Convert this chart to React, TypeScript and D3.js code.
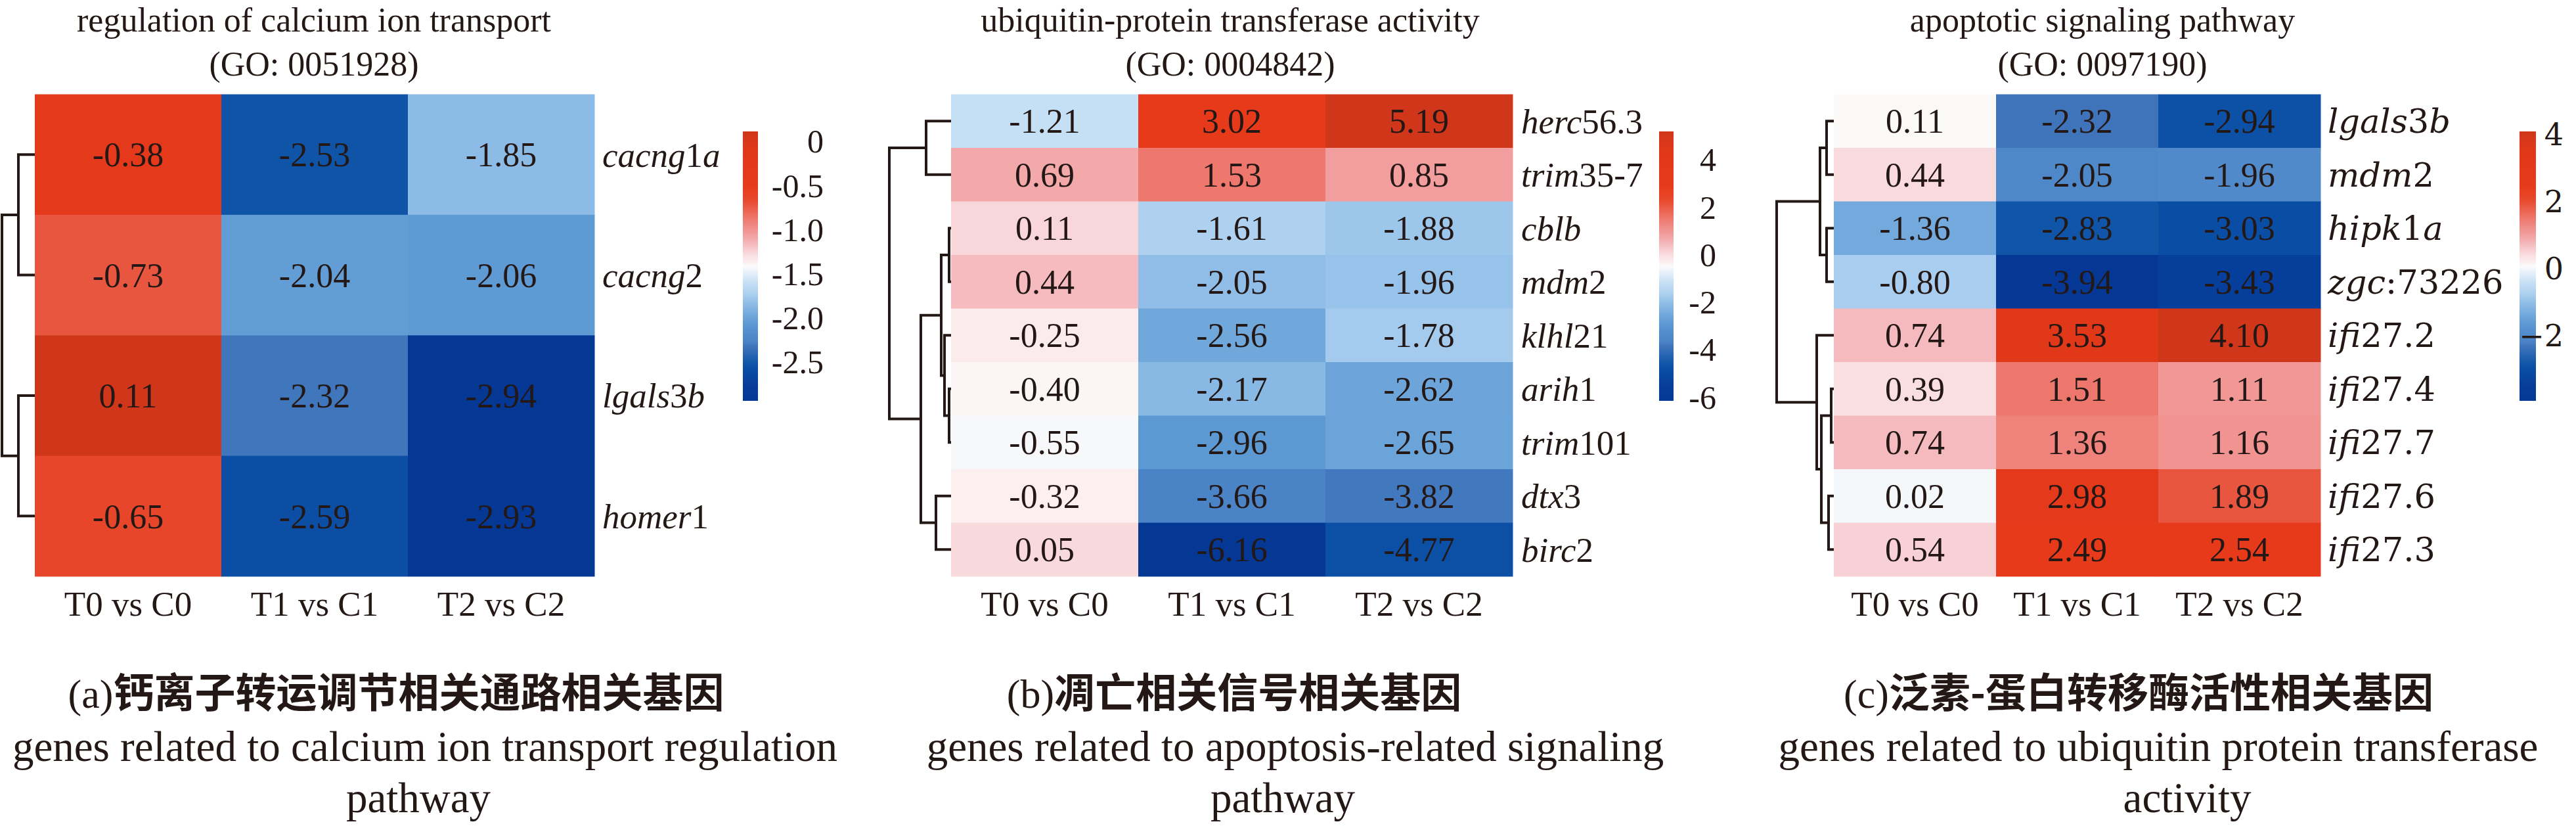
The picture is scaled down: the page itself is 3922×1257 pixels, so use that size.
import React from 'react';
import * as d3 from 'd3';

// ---------------- DATA ----------------
const COMPARISONS = ['T0 vs C0', 'T1 vs C1', 'T2 vs C2'];

const TITLES = [
  ['regulation of calcium ion transport', '(GO: 0051928)'],
  ['ubiquitin-protein transferase activity', '(GO: 0004842)'],
  ['apoptotic signaling pathway', '(GO: 0097190)'],
];

const GENES_A = ['cacng1a', 'cacng2', 'lgals3b', 'homer1'];
const VALUES_A = [
  [-0.38, -2.53, -1.85],
  [-0.73, -2.04, -2.06],
  [0.11, -2.32, -2.94],
  [-0.65, -2.59, -2.93],
];
const TICKS_A = [0, -0.5, -1.0, -1.5, -2.0, -2.5];
const TICK_LABELS_A = ['0', '-0.5', '-1.0', '-1.5', '-2.0', '-2.5'];
const TREE_A = { h: 50, c: [{ h: 25, c: ['cacng1a', 'cacng2'] }, { h: 25, c: ['lgals3b', 'homer1'] }] };

const GENES_B = ['herc56.3', 'trim35-7', 'cblb', 'mdm2', 'klhl21', 'arih1', 'trim101', 'dtx3', 'birc2'];
const VALUES_B = [
  [-1.21, 3.02, 5.19],
  [0.69, 1.53, 0.85],
  [0.11, -1.61, -1.88],
  [0.44, -2.05, -1.96],
  [-0.25, -2.56, -1.78],
  [-0.40, -2.17, -2.62],
  [-0.55, -2.96, -2.65],
  [-0.32, -3.66, -3.82],
  [0.05, -6.16, -4.77],
];
const TICKS_B = [4, 2, 0, -2, -4, -6];
const TICK_LABELS_B = ['4', '2', '0', '-2', '-4', '-6'];
const TREE_B = {
  h: 94,
  c: [
    { h: 38, c: ['herc56.3', 'trim35-7'] },
    {
      h: 46,
      c: [
        { h: 15, c: [{ h: 3, c: ['cblb', 'mdm2'] }, { h: 10, c: ['klhl21', { h: 3, c: ['arih1', 'trim101'] }] }] },
        { h: 23, c: ['dtx3', 'birc2'] },
      ],
    },
  ],
};

const GENES_C = ['lgals3b', 'mdm2', 'hipk1a', 'zgc:73226', 'ifi27.2', 'ifi27.4', 'ifi27.7', 'ifi27.6', 'ifi27.3'];
const VALUES_C = [
  [0.11, -2.32, -2.94],
  [0.44, -2.05, -1.96],
  [-1.36, -2.83, -3.03],
  [-0.80, -3.94, -3.43],
  [0.74, 3.53, 4.10],
  [0.39, 1.51, 1.11],
  [0.74, 1.36, 1.16],
  [0.02, 2.98, 1.89],
  [0.54, 2.49, 2.54],
];
const TICKS_C = [4, 2, 0, -2];
const TICK_LABELS_C = ['4', '2', '0', '\u22122'];
const TREE_C = {
  h: 87,
  c: [
    { h: 21, c: [{ h: 11, c: ['lgals3b', 'mdm2'] }, { h: 11, c: ['hipk1a', 'zgc:73226'] }] },
    { h: 26, c: ['ifi27.2', { h: 19, c: [{ h: 4, c: ['ifi27.4', 'ifi27.7'] }, { h: 8, c: ['ifi27.6', 'ifi27.3'] }] }] },
  ],
};

const CAPTIONS_CN = ['(a)钙离子转运调节相关通路相关基因', '(b)凋亡相关信号相关基因', '(c)泛素-蛋白转移酶活性相关基因'];
const CAPTIONS_EN = [
  ['genes related to calcium ion transport regulation', 'pathway'],
  ['genes related to apoptosis-related signaling', 'pathway'],
  ['genes related to ubiquitin protein transferase', 'activity'],
];

// ---------------- STYLE / LAYOUT ----------------
const INK = '#231815';
const SERIF = '"Liberation Serif", "Times New Roman", Times, serif';
const WIDE = '"DejaVu Serif", serif';
const CJK = '"Noto Sans CJK SC", sans-serif';

const PAL_T = [0, 0.06, 0.12, 0.14, 0.2, 0.22, 0.25, 0.29, 0.32, 0.36, 0.39, 0.44, 0.5, 0.52, 0.55, 0.58, 0.61, 0.68, 0.725, 0.75, 0.8, 0.93, 1];
const PAL_C = ['#053895', '#063e9a', '#0b4fa5', '#1156a8', '#3e73ba', '#4a84c7', '#518bcb', '#5f9bd4', '#72a9dc', '#8ebce6', '#a8cdee', '#c7e0f5', '#fbfbfb', '#fbebec', '#f8d8db', '#f5bcc0', '#f2a3a4', '#ee766b', '#e9563f', '#e8462a', '#e63a1b', '#e1381a', '#d0361a'];
const palette = d3.scaleLinear<string>().domain(PAL_T).range(PAL_C).interpolate(d3.interpolateRgb);

const PANELS = [
  { genes: GENES_A, values: VALUES_A, tree: TREE_A, ticks: TICKS_A, tickLabels: TICK_LABELS_A, title: TITLES[0],
    x0: 53, x1: 905, rootX: 3, labelX: 917, barX: 1131, barW: 23, tickRight: 1254, titleX: 478,
    geneFont: SERIF, geneSize: 53, tickFont: SERIF, tickSize: 50 },
  { genes: GENES_B, values: VALUES_B, tree: TREE_B, ticks: TICKS_B, tickLabels: TICK_LABELS_B, title: TITLES[1],
    x0: 1448, x1: 2303, rootX: 1354, labelX: 2316, barX: 2526, barW: 22, tickRight: 2613, titleX: 1873,
    geneFont: SERIF, geneSize: 53, tickFont: SERIF, tickSize: 50 },
  { genes: GENES_C, values: VALUES_C, tree: TREE_C, ticks: TICKS_C, tickLabels: TICK_LABELS_C, title: TITLES[2],
    x0: 2792, x1: 3533, rootX: 2705, labelX: 3544, barX: 3836, barW: 25, tickRight: 3903, titleX: 3201,
    geneFont: WIDE, geneSize: 51, tickFont: WIDE, tickSize: 46 },
];
const Y0 = 143.5, Y1 = 877, BAR_Y0 = 200, BAR_Y1 = 610;
const CAP_CN_X = [603, 1879, 3256];
const CAP_EN1_X = [647, 1972, 3286];
const CAP_EN2_X = [637, 1953, 3330];

const fmtLocale = d3.formatLocale({ decimal: '.', thousands: ',', grouping: [3], currency: ['', ''], minus: '-' });
const fmt2 = fmtLocale.format('.2f');

function geneLabel(name: string) {
  const parts = name.match(/[A-Za-z]+|[^A-Za-z]+/g) || [];
  return parts.map((p, i) => (
    <tspan key={i} fontStyle={/[A-Za-z]/.test(p) ? 'italic' : 'normal'}>{p}</tspan>
  ));
}

function Panel({ p, idx }: { p: any; idx: number }) {
  const flat = p.values.flat();
  const vmin = d3.min(flat) as number;
  const vmax = d3.max(flat) as number;
  const tScale = d3.scaleLinear().domain([vmin, vmax]).range([0, 1]);
  const color = (v: number) => palette(tScale(v));

  const xBand = d3.scaleBand<string>().domain(COMPARISONS).range([p.x0, p.x1]);
  const yBand = d3.scaleBand<string>().domain(p.genes).range([Y0, Y1]);

  // dendrogram
  const root = d3.hierarchy<any>(p.tree, (d: any) => (typeof d === 'string' ? null : d.c));
  const hx = d3.scaleLinear().domain([0, p.tree.h]).range([p.x0, p.rootX]);
  const yOf = new Map<any, number>();
  root.eachAfter((n: any) => {
    if (!n.children) yOf.set(n, (yBand(n.data) as number) + yBand.bandwidth() / 2);
    else yOf.set(n, (yOf.get(n.children[0])! + yOf.get(n.children[n.children.length - 1])!) / 2);
  });
  const xOf = (n: any) => (n.children ? hx(n.data.h) : hx(0));
  const paths: string[] = [];
  root.each((n: any) => {
    if (!n.children) return;
    const c0 = n.children[0];
    const c1 = n.children[n.children.length - 1];
    const xn = xOf(n);
    paths.push(`M${xOf(c0)},${yOf.get(c0)}H${xn}V${yOf.get(c1)}H${xOf(c1)}`);
  });

  const barScale = d3.scaleLinear().domain([vmax, vmin]).range([BAR_Y0, BAR_Y1]);
  const gradId = `grad${idx}`;
  const stops = d3.range(0, 1.0001, 0.02);

  return (
    <g>
      <defs>
        <linearGradient id={gradId} x1="0" y1="0" x2="0" y2="1">
          {stops.map((s) => (
            <stop key={s} offset={s} stopColor={color(vmax - s * (vmax - vmin))} />
          ))}
        </linearGradient>
      </defs>
      {/* title */}
      <text x={p.titleX} y={48} textAnchor="middle" fontFamily={SERIF} fontSize={52} fill={INK}>{p.title[0]}</text>
      <text x={p.titleX} y={115} textAnchor="middle" fontFamily={SERIF} fontSize={52} fill={INK}>{p.title[1]}</text>
      {/* cells */}
      {p.genes.map((g: string, i: number) =>
        COMPARISONS.map((c, j) => (
          <rect key={`${g}-${c}`} x={xBand(c)} y={yBand(g)} width={xBand.bandwidth() + 0.5} height={yBand.bandwidth() + 0.5}
            fill={color(p.values[i][j])} />
        ))
      )}
      {p.genes.map((g: string, i: number) =>
        COMPARISONS.map((c, j) => (
          <text key={`t-${g}-${c}`} x={(xBand(c) as number) + xBand.bandwidth() / 2} y={(yBand(g) as number) + yBand.bandwidth() / 2}
            dy="0.35em" textAnchor="middle" fontFamily={SERIF} fontSize={52} fill={INK}>{fmt2(p.values[i][j])}</text>
        ))
      )}
      {/* gene labels */}
      {p.genes.map((g: string) => (
        <text key={`g-${g}`} x={p.labelX} y={(yBand(g) as number) + yBand.bandwidth() / 2} dy="0.35em"
          fontFamily={p.geneFont} fontSize={p.geneSize} fill={INK}>{geneLabel(g)}</text>
      ))}
      {/* column labels */}
      {COMPARISONS.map((c) => (
        <text key={`c-${c}`} x={(xBand(c) as number) + xBand.bandwidth() / 2} y={937} textAnchor="middle"
          fontFamily={SERIF} fontSize={53} fill={INK}>{c}</text>
      ))}
      {/* dendrogram */}
      <path d={paths.join('')} fill="none" stroke={INK} strokeWidth={4} />
      {/* colorbar */}
      <rect x={p.barX} y={BAR_Y0} width={p.barW} height={BAR_Y1 - BAR_Y0} fill={`url(#${gradId})`} />
      {p.ticks.map((t: number, k: number) => (
        <text key={`tk-${k}`} x={p.tickRight} y={barScale(t)} dy="0.35em" textAnchor="end"
          fontFamily={p.tickFont} fontSize={p.tickSize} fill={INK}>{p.tickLabels[k]}</text>
      ))}
    </g>
  );
}

function cnCaption(s: string) {
  const parts = s.match(/[\x00-\x7f]+|[^\x00-\x7f]+/g) || [];
  return parts.map((p, i) => {
    const ascii = /^[\x00-\x7f]+$/.test(p) && p !== '-';
    return (
      <tspan key={i} fontFamily={ascii ? SERIF : CJK} fontWeight={ascii ? 400 : 600}>{p}</tspan>
    );
  });
}

export default function App() {
  return (
    <svg width={3922} height={1257} viewBox="0 0 3922 1257"
      style={{ position: 'absolute', left: 0, top: 0, display: 'block', background: '#fff' }}>
      <rect x={0} y={0} width={3922} height={1257} fill="#fff" />
      {PANELS.map((p, i) => <Panel key={i} p={p} idx={i} />)}
      {CAPTIONS_CN.map((s, i) => (
        <text key={`cn${i}`} x={CAP_CN_X[i]} y={1077} textAnchor="middle" fontSize={62} fill={INK}>{cnCaption(s)}</text>
      ))}
      {CAPTIONS_EN.map((lines, i) => (
        <g key={`en${i}`}>
          <text x={CAP_EN1_X[i]} y={1158} textAnchor="middle" fontFamily={SERIF} fontSize={65} fill={INK}>{lines[0]}</text>
          <text x={CAP_EN2_X[i]} y={1236} textAnchor="middle" fontFamily={SERIF} fontSize={65} fill={INK}>{lines[1]}</text>
        </g>
      ))}
    </svg>
  );
}
